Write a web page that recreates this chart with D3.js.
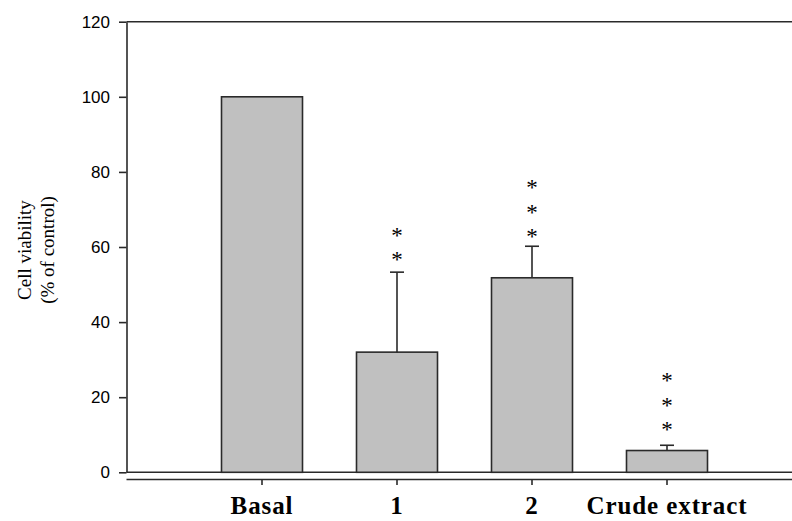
<!DOCTYPE html>
<html>
<head>
<meta charset="utf-8">
<script src="https://cdn.jsdelivr.net/npm/d3@7"></script>
<style>
  body { margin: 0; background: #fff; }
  svg { display: block; }
</style>
</head>
<body>
<svg id="chart" width="792" height="521"></svg>
<script>
(function() {

    // data
    var categories = ["Basal", "1", "2", "Crude extract"];
    var means = [100, 32, 51.8, 5.8];
    var errors = [0, 21.3, 8.4, 1.4];
    var stars = [0, 2, 3, 3];
    // value at which the lowest asterisk of each group sits
    var starLevel = [0, 57.4, 63.5, 12.1];
    var yTicks = [0, 20, 40, 60, 80, 100, 120];

    var svg = d3.select("#chart"),
        width = +svg.attr("width"),
        height = +svg.attr("height");

    var left = 126.5, top = 21.7, bottom = 472.3;
    var ink = "#2a2a2a";

    var x = d3.scaleBand()
        .domain(categories)
        .range([194.5, 734.5])
        .paddingInner(0.4)
        .paddingOuter(0.2);

    var y = d3.scaleLinear()
        .domain([0, 120])
        .range([bottom, top]);

    // top frame line
    svg.append("line")
        .attr("x1", left).attr("x2", width)
        .attr("y1", top).attr("y2", top)
        .attr("stroke", ink).attr("stroke-width", 1.6);

    // y axis
    var yAxis = svg.append("g")
        .attr("transform", "translate(" + left + ",0)")
        .call(d3.axisLeft(y).tickValues(yTicks).tickSize(7.5).tickPadding(9).tickSizeOuter(0));
    yAxis.select(".domain").attr("stroke", ink).attr("stroke-width", 1.6);
    yAxis.selectAll(".tick line").attr("stroke", ink).attr("stroke-width", 1.6);
    yAxis.selectAll(".tick text")
        .attr("fill", "#000")
        .style("font-family", "'Liberation Sans', Arial, sans-serif")
        .style("font-size", "17px");

    // zero line runs across the whole plot
    svg.append("line")
        .attr("x1", left).attr("x2", width)
        .attr("y1", y(0)).attr("y2", y(0))
        .attr("stroke", ink).attr("stroke-width", 1.6);

    // bars
    svg.selectAll(".bar")
        .data(means)
        .enter().append("rect")
        .attr("class", "bar")
        .attr("x", function(d, i) { return x(categories[i]); })
        .attr("width", x.bandwidth())
        .attr("y", function(d) { return y(d); })
        .attr("height", function(d) { return y(0) - y(d); })
        .attr("fill", "#c0c0c0")
        .attr("stroke", ink)
        .attr("stroke-width", 1.6);

    // error bars (upper only)
    var cx = function(i) { return x(categories[i]) + x.bandwidth() / 2; };
    var err = svg.selectAll(".err")
        .data(means.map(function(d, i) { return i; }).filter(function(i) { return errors[i] > 0; }))
        .enter().append("g")
        .attr("class", "err")
        .attr("stroke", ink)
        .attr("stroke-width", 1.6);
    err.append("line")
        .attr("x1", cx).attr("x2", cx)
        .attr("y1", function(i) { return y(means[i]); })
        .attr("y2", function(i) { return y(means[i] + errors[i]); });
    err.append("line")
        .attr("x1", function(i) { return cx(i) - 7; })
        .attr("x2", function(i) { return cx(i) + 7; })
        .attr("y1", function(i) { return y(means[i] + errors[i]); })
        .attr("y2", function(i) { return y(means[i] + errors[i]); });

    // significance asterisks
    stars.forEach(function(n, i) {
        for (var k = 0; k < n; k++) {
            svg.append("text")
                .attr("x", cx(i))
                .attr("y", y(starLevel[i]) - k * 24.7 + 10.5)
                .attr("text-anchor", "middle")
                .style("font-family", "'Liberation Serif', 'Times New Roman', serif")
                .style("font-size", "23px")
                .text("*");
        }
    });

    // lower category axis
    var xAxis = svg.append("g")
        .attr("transform", "translate(0,479)")
        .call(d3.axisBottom(x).tickSize(6).tickSizeOuter(0).tickPadding(11.5));
    xAxis.select(".domain")
        .attr("d", "M" + left + ",0.5H" + width)
        .attr("stroke", ink).attr("stroke-width", 1.6);
    xAxis.selectAll(".tick line").attr("stroke", ink).attr("stroke-width", 1.6);
    xAxis.selectAll(".tick text")
        .attr("fill", "#000")
        .attr("dy", "0.71em")
        .style("font-family", "'Liberation Serif', 'Times New Roman', serif")
        .style("font-weight", "bold")
        .style("font-size", "25px")
        .style("letter-spacing", "0.9px");

    // y axis title
    var title = svg.append("text")
        .attr("transform", "translate(0,250) rotate(-90)")
        .attr("text-anchor", "middle")
        .style("font-family", "'Liberation Serif', 'Times New Roman', serif")
        .style("font-size", "19px");
    title.append("tspan").attr("x", 0).attr("y", 31).text("Cell viability");
    title.append("tspan").attr("x", 0).attr("y", 54).text("(% of control)");

})();
</script>
</body>
</html>
